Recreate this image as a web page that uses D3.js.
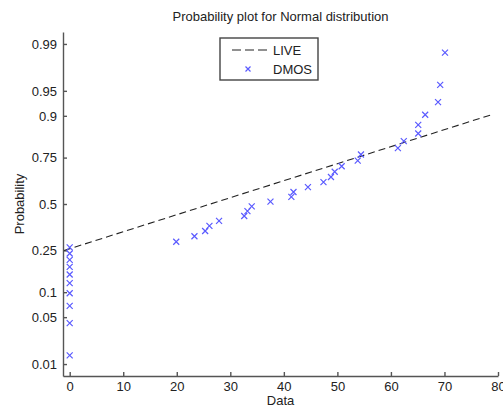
<!DOCTYPE html>
<html>
<head>
<meta charset="utf-8">
<script src="https://cdn.jsdelivr.net/npm/d3@7"></script>
<style>
  body { margin: 0; background: #fff; }
  svg { display: block; font-family: "Liberation Sans", Arial, sans-serif; }
  .axis path, .axis line { stroke: #555; stroke-width: 1.4; }
  .axis text { fill: #222; font-size: 13px; }
</style>
</head>
<body>
<svg id="chart" width="503" height="409"></svg>
<script>
// DMOS sample values (sorted)
var dmos = [0, 0, 0, 0, 0, 0, 0, 0, 0, 0,
  19.9, 23.3, 25.3, 26.1, 27.9, 32.6, 33.2, 34.0, 37.5, 41.4,
  41.8, 44.5, 47.4, 48.8, 49.5, 50.8, 53.8, 54.4, 61.3, 62.4,
  65.1, 65.1, 66.4, 68.8, 69.2, 70.1];

// LIVE reference line endpoints (data, probability)
var liveX = [-1.05, 79.2];
var liveP = [0.2495, 0.9046];

var xTicks = [0, 10, 20, 30, 40, 50, 60, 70, 80];
var probTicks = [0.01, 0.05, 0.1, 0.25, 0.5, 0.75, 0.9, 0.95, 0.99];
var probLabels = ['0.01', '0.05', '0.1', '0.25', '0.5', '0.75', '0.9', '0.95', '0.99'];

var margin = {top: 32, right: 5, bottom: 33, left: 63},
    W = 503, H = 409,
    width = W - margin.left - margin.right,
    height = H - margin.top - margin.bottom;

// inverse normal cdf (Acklam)
function norminv(p) {
  var a = [-39.69683028665376, 220.9460984245205, -275.9285104469687, 138.3577518672690, -30.66479806614716, 2.506628277459239],
      b = [-54.47609879822406, 161.5858368580409, -155.6989798598866, 66.80131188771972, -13.28068155288572],
      c = [-0.007784894002430293, -0.3223964580411365, -2.400758277161838, -2.549732539343734, 4.374664141464968, 2.938163982698783],
      d = [0.007784695709041462, 0.3224671290700398, 2.445134137142996, 3.754408661907416],
      pl = 0.02425, q, r;
  if (p < pl) {
    q = Math.sqrt(-2 * Math.log(p));
    return (((((c[0]*q+c[1])*q+c[2])*q+c[3])*q+c[4])*q+c[5]) / ((((d[0]*q+d[1])*q+d[2])*q+d[3])*q+1);
  }
  if (p > 1 - pl) {
    q = Math.sqrt(-2 * Math.log(1 - p));
    return -(((((c[0]*q+c[1])*q+c[2])*q+c[3])*q+c[4])*q+c[5]) / ((((d[0]*q+d[1])*q+d[2])*q+d[3])*q+1);
  }
  q = p - 0.5; r = q * q;
  return (((((a[0]*r+a[1])*r+a[2])*r+a[3])*r+a[4])*r+a[5])*q / (((((b[0]*r+b[1])*r+b[2])*r+b[3])*r+b[4])*r+1);
}

var xScale = d3.scaleLinear().domain([-1.25, 80]).range([0, width]),
    zScale = d3.scaleLinear().domain([-2.5, 2.5]).range([height, 0]);

function Y(p) { return zScale(norminv(p)); }

var svg = d3.select('#chart'),
    g = svg.append('g').attr('transform', 'translate(' + margin.left + ',' + margin.top + ')');

// axes (MATLAB style: inward ticks, no box)
g.append('g')
  .attr('class', 'axis axis--x')
  .attr('transform', 'translate(0,' + height + ')')
  .call(d3.axisBottom(xScale).tickValues(xTicks).tickSizeInner(-4).tickSizeOuter(0).tickPadding(6));

g.append('g')
  .attr('class', 'axis axis--y')
  .call(d3.axisLeft(zScale)
    .tickValues(probTicks.map(norminv))
    .tickFormat((d, i) => probLabels[i])
    .tickSizeInner(-4).tickSizeOuter(0).tickPadding(6));

// reference line
var line = d3.line().x(d => xScale(d[0])).y(d => Y(d[1]));
g.append('path')
  .attr('class', 'live')
  .attr('d', line(liveX.map((x, i) => [x, liveP[i]])))
  .attr('fill', 'none')
  .attr('stroke', '#222')
  .attr('stroke-width', 1.1)
  .attr('stroke-dasharray', '7,4');

// data points, normplot positions (i-0.5)/n
var n = dmos.length;
var pts = dmos.map((v, i) => ({x: v, p: (i + 0.5) / n}));

function cross(sel, s) {
  sel.append('path')
    .attr('d', 'M' + (-s) + ',' + (-s) + 'L' + s + ',' + s + 'M' + (-s) + ',' + s + 'L' + s + ',' + (-s))
    .attr('stroke', '#5a5aff')
    .attr('stroke-width', 1.2)
    .attr('fill', 'none');
}

g.selectAll('.pt')
  .data(pts)
  .enter().append('g')
  .attr('class', 'pt')
  .attr('transform', d => 'translate(' + xScale(d.x) + ',' + Y(d.p) + ')')
  .call(cross, 3);

// title and labels
svg.append('text')
  .attr('x', margin.left + width / 2).attr('y', 21)
  .attr('text-anchor', 'middle')
  .attr('font-size', 13).attr('fill', '#222')
  .text('Probability plot for Normal distribution');

svg.append('text')
  .attr('x', margin.left + width / 2).attr('y', 405)
  .attr('text-anchor', 'middle')
  .attr('font-size', 13).attr('fill', '#222')
  .text('Data');

svg.append('text')
  .attr('transform', 'translate(24,' + (margin.top + height / 2) + ') rotate(-90)')
  .attr('text-anchor', 'middle')
  .attr('font-size', 13).attr('fill', '#222')
  .text('Probability');

// legend
var lg = svg.append('g').attr('transform', 'translate(220,38)');
lg.append('rect')
  .attr('width', 98).attr('height', 42)
  .attr('fill', '#fff').attr('stroke', '#444').attr('stroke-width', 1.4);
lg.append('line')
  .attr('x1', 12).attr('x2', 49).attr('y1', 12).attr('y2', 12)
  .attr('stroke', '#222').attr('stroke-width', 1.1).attr('stroke-dasharray', '9,4');
lg.append('text').attr('x', 53).attr('y', 16.5).attr('font-size', 13).attr('fill', '#222').text('LIVE');
lg.append('g').attr('transform', 'translate(28,31)').call(cross, 2.5);
lg.append('text').attr('x', 53).attr('y', 35.5).attr('font-size', 13).attr('fill', '#222').text('DMOS');
</script>
</body>
</html>
